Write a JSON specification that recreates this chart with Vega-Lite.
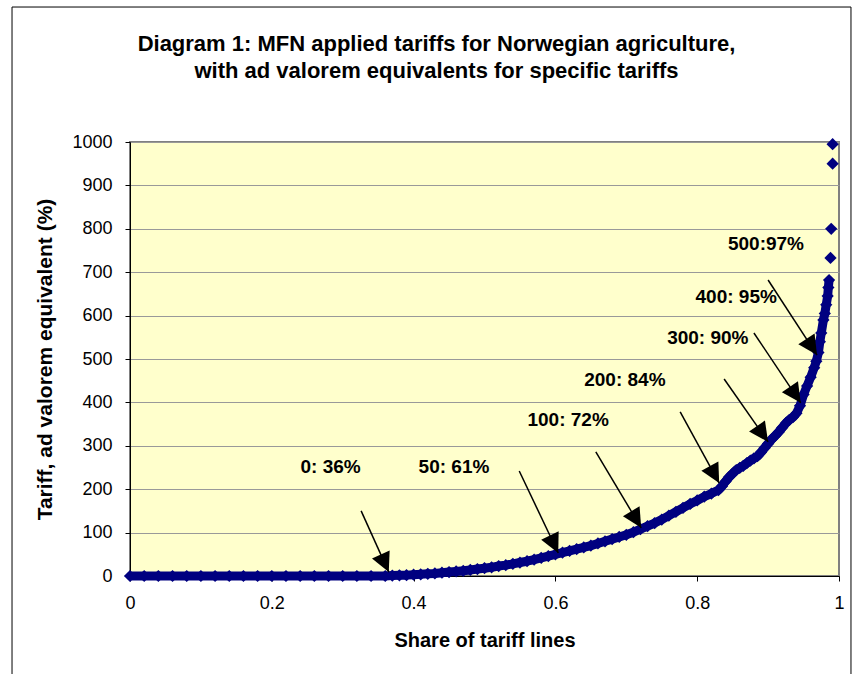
{
  "$schema": "https://vega.github.io/schema/vega-lite/v6.json",
  "width": 709,
  "height": 434,
  "autosize": {"type": "none"},
  "padding": {"left": 130, "top": 142, "right": 22, "bottom": 98},
  "background": "white",
  "title": {
    "text": ["Diagram 1: MFN applied tariffs for Norwegian agriculture,", "with ad valorem equivalents for specific tariffs"],
    "font": "Liberation Sans",
    "fontSize": 22,
    "fontWeight": "bold",
    "color": "#000000",
    "anchor": "middle",
    "frame": "group",
    "dx": -48,
    "offset": -98,
    "lineHeight": 27,
    "baseline": "bottom"
  },
  "config": {
    "view": {"fill": "#FFFFCC", "stroke": "#808080", "strokeWidth": 2},
    "font": "Liberation Sans",
    "axis": {
      "labelFont": "Liberation Sans",
      "labelFontSize": 18,
      "labelColor": "#000000",
      "titleFont": "Liberation Sans",
      "titleFontWeight": "bold",
      "titleColor": "#000000",
      "domainColor": "#000000",
      "domainWidth": 1,
      "tickColor": "#000000",
      "tickSize": 5,
      "gridColor": "#999999",
      "gridWidth": 1,
      "labelFlush": false,
      "labelOverlap": false
    }
  },
  "datasets": {
    "curve": [
      {"share": 0, "tariff": 0}, {"share": 0.02, "tariff": 0}, {"share": 0.04, "tariff": 0}, {"share": 0.06, "tariff": 0},
      {"share": 0.08, "tariff": 0}, {"share": 0.1, "tariff": 0}, {"share": 0.12, "tariff": 0}, {"share": 0.14, "tariff": 0},
      {"share": 0.16, "tariff": 0}, {"share": 0.18, "tariff": 0}, {"share": 0.2, "tariff": 0}, {"share": 0.22, "tariff": 0},
      {"share": 0.24, "tariff": 0}, {"share": 0.26, "tariff": 0}, {"share": 0.28, "tariff": 0}, {"share": 0.3, "tariff": 0},
      {"share": 0.32, "tariff": 0}, {"share": 0.34, "tariff": 0}, {"share": 0.36, "tariff": 0},
      {"share": 0.37, "tariff": 1}, {"share": 0.38, "tariff": 1.5}, {"share": 0.39, "tariff": 2}, {"share": 0.4, "tariff": 3},
      {"share": 0.41, "tariff": 4}, {"share": 0.42, "tariff": 5}, {"share": 0.43, "tariff": 6}, {"share": 0.44, "tariff": 7.5},
      {"share": 0.45, "tariff": 9}, {"share": 0.46, "tariff": 10.5}, {"share": 0.47, "tariff": 12}, {"share": 0.48, "tariff": 14},
      {"share": 0.49, "tariff": 16}, {"share": 0.5, "tariff": 18}, {"share": 0.51, "tariff": 20}, {"share": 0.52, "tariff": 23},
      {"share": 0.53, "tariff": 25}, {"share": 0.54, "tariff": 28}, {"share": 0.55, "tariff": 31}, {"share": 0.56, "tariff": 34},
      {"share": 0.57, "tariff": 38}, {"share": 0.58, "tariff": 42}, {"share": 0.59, "tariff": 46}, {"share": 0.6, "tariff": 50},
      {"share": 0.61, "tariff": 54}, {"share": 0.62, "tariff": 58}, {"share": 0.63, "tariff": 62}, {"share": 0.64, "tariff": 66},
      {"share": 0.65, "tariff": 70}, {"share": 0.66, "tariff": 75}, {"share": 0.67, "tariff": 80}, {"share": 0.68, "tariff": 85},
      {"share": 0.69, "tariff": 90}, {"share": 0.7, "tariff": 95}, {"share": 0.71, "tariff": 101}, {"share": 0.72, "tariff": 108},
      {"share": 0.73, "tariff": 115}, {"share": 0.74, "tariff": 122}, {"share": 0.75, "tariff": 130}, {"share": 0.76, "tariff": 139},
      {"share": 0.77, "tariff": 148}, {"share": 0.78, "tariff": 157}, {"share": 0.79, "tariff": 166}, {"share": 0.8, "tariff": 174},
      {"share": 0.81, "tariff": 183}, {"share": 0.82, "tariff": 190}, {"share": 0.83, "tariff": 198}, {"share": 0.835, "tariff": 207},
      {"share": 0.84, "tariff": 218}, {"share": 0.845, "tariff": 228}, {"share": 0.85, "tariff": 236}, {"share": 0.855, "tariff": 244},
      {"share": 0.86, "tariff": 249}, {"share": 0.865, "tariff": 254}, {"share": 0.87, "tariff": 260}, {"share": 0.875, "tariff": 266},
      {"share": 0.88, "tariff": 271}, {"share": 0.885, "tariff": 276}, {"share": 0.89, "tariff": 285}, {"share": 0.895, "tariff": 295},
      {"share": 0.9, "tariff": 305}, {"share": 0.905, "tariff": 315}, {"share": 0.91, "tariff": 323}, {"share": 0.915, "tariff": 332},
      {"share": 0.92, "tariff": 342}, {"share": 0.925, "tariff": 352}, {"share": 0.93, "tariff": 360}, {"share": 0.935, "tariff": 366},
      {"share": 0.94, "tariff": 375}, {"share": 0.945, "tariff": 392}, {"share": 0.95, "tariff": 418}, {"share": 0.955, "tariff": 438},
      {"share": 0.96, "tariff": 458}, {"share": 0.965, "tariff": 480}, {"share": 0.968, "tariff": 495}, {"share": 0.971, "tariff": 515},
      {"share": 0.973, "tariff": 540}, {"share": 0.975, "tariff": 560}, {"share": 0.978, "tariff": 590}, {"share": 0.98, "tariff": 605},
      {"share": 0.982, "tariff": 625}, {"share": 0.984, "tariff": 645}, {"share": 0.985, "tariff": 665}, {"share": 0.986, "tariff": 682},
      {"share": 0.988, "tariff": 733}, {"share": 0.989, "tariff": 800}, {"share": 0.991, "tariff": 950}, {"share": 0.991, "tariff": 995}
    ],
    "notes": [
      {"label": "0: 36%", "lx": 0.283, "ly": 251, "x1": 0.326, "y1": 150, "x2": 0.365, "y2": 9},
      {"label": "50: 61%", "lx": 0.457, "ly": 251, "x1": 0.549, "y1": 242, "x2": 0.604, "y2": 53},
      {"label": "100: 72%", "lx": 0.618, "ly": 359, "x1": 0.657, "y1": 286, "x2": 0.721, "y2": 111},
      {"label": "200: 84%", "lx": 0.698, "ly": 452, "x1": 0.776, "y1": 378, "x2": 0.831, "y2": 214},
      {"label": "300: 90%", "lx": 0.815, "ly": 548, "x1": 0.838, "y1": 454, "x2": 0.9, "y2": 309},
      {"label": "400: 95%", "lx": 0.855, "ly": 643, "x1": 0.88, "y1": 560, "x2": 0.946, "y2": 399},
      {"label": "500:97%", "lx": 0.897, "ly": 765, "x1": 0.9, "y1": 682, "x2": 0.969, "y2": 509}
    ]
  },
  "layer": [
    {
      "data": {"values": [{}]},
      "mark": {"type": "rect", "filled": false, "color": "#000000", "strokeWidth": 1},
      "encoding": {
        "x": {"datum": -0.1664, "type": "quantitative", "scale": {"domain": [0, 1]}},
        "x2": {"datum": 1.0169},
        "y": {"datum": 1311, "type": "quantitative", "scale": {"domain": [0, 1000]}},
        "y2": {"datum": -250}
      }
    },
    {
      "data": {"name": "curve"},
      "transform": [{"filter": "datum.tariff <= 690"}],
      "mark": {"type": "line", "color": "#000080", "strokeWidth": 9, "strokeJoin": "round"},
      "encoding": {
        "x": {"field": "share", "type": "quantitative", "scale": {"domain": [0, 1]},
          "axis": {"title": "Share of tariff lines", "values": [0, 0.2, 0.4, 0.6, 0.8, 1], "format": "~g", "grid": false, "labelPadding": 13, "titlePadding": 18, "titleFontSize": 20}},
        "y": {"field": "tariff", "type": "quantitative", "scale": {"domain": [0, 1000]},
          "axis": {"title": "Tariff, ad valorem equivalent (%)", "values": [0, 100, 200, 300, 400, 500, 600, 700, 800, 900, 1000], "format": "d", "grid": true, "labelPadding": 13, "titlePadding": 16, "titleFontSize": 21}}
      }
    },
    {
      "data": {"name": "curve"},
      "mark": {"type": "point", "shape": "diamond", "filled": true, "color": "#000080", "size": 150, "opacity": 1},
      "encoding": {
        "x": {"field": "share", "type": "quantitative", "title": "Share of tariff lines"},
        "y": {"field": "tariff", "type": "quantitative", "title": "Tariff, ad valorem equivalent (%)"}
      }
    },
    {
      "data": {"name": "notes"},
      "mark": {"type": "rule", "color": "#000000", "strokeWidth": 1.5},
      "encoding": {
        "x": {"field": "x1", "type": "quantitative", "title": "Share of tariff lines"},
        "y": {"field": "y1", "type": "quantitative", "title": "Tariff, ad valorem equivalent (%)"},
        "x2": {"field": "x2"},
        "y2": {"field": "y2"}
      }
    },
    {
      "data": {"name": "notes"},
      "transform": [{"calculate": "-atan2((datum.x2 - datum.x1) * 709, (datum.y1 - datum.y2) * 0.434) * 180 / PI", "as": "ang"}],
      "mark": {"type": "point", "shape": "M0,0L-0.5,-1L0.5,-1Z", "filled": true, "color": "#000000", "size": 1500, "opacity": 1},
      "encoding": {
        "x": {"field": "x2", "type": "quantitative", "title": "Share of tariff lines"},
        "y": {"field": "y2", "type": "quantitative", "title": "Tariff, ad valorem equivalent (%)"},
        "angle": {"field": "ang", "type": "quantitative", "scale": null}
      }
    },
    {
      "data": {"name": "notes"},
      "mark": {"type": "text", "font": "Liberation Sans", "fontSize": 19, "fontWeight": "bold", "color": "#000000", "align": "center", "baseline": "middle"},
      "encoding": {
        "x": {"field": "lx", "type": "quantitative", "title": "Share of tariff lines"},
        "y": {"field": "ly", "type": "quantitative", "title": "Tariff, ad valorem equivalent (%)"},
        "text": {"field": "label", "type": "nominal"}
      }
    }
  ]
}
